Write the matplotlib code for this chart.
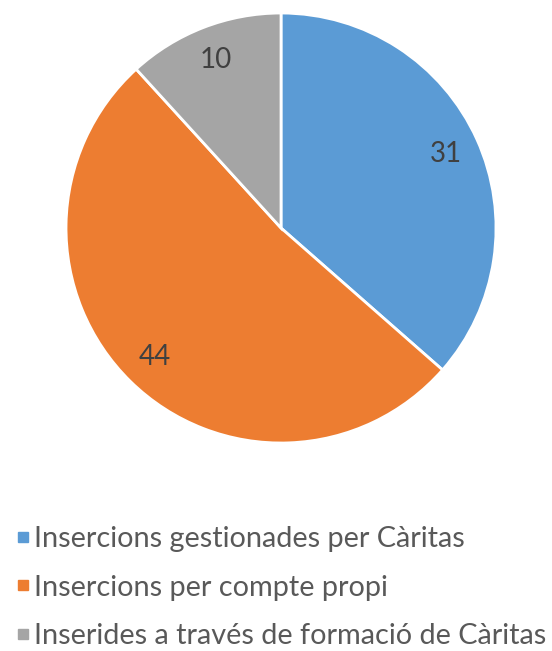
import matplotlib.pyplot as plt
from matplotlib.lines import Line2D

labels = ["Insercions gestionades per Càritas",
          "Insercions per compte propi",
          "Inserides a través de formació de Càritas"]
values = [31, 44, 10]
colors = ["#5B9BD5", "#ED7D31", "#A5A5A5"]

plt.rcParams['font.family'] = ['Lato', 'DejaVu Sans']

fig = plt.figure(figsize=(5.52, 6.51), dpi=100)
ax = fig.add_axes([0.1196, 0.3195, 0.779, 0.6605])

wedges, texts, autotexts = ax.pie(
    values, colors=colors, startangle=90, counterclock=False,
    autopct=lambda p: f"{p * sum(values) / 100:.0f}", pctdistance=0.84,
    wedgeprops=dict(edgecolor="white", linewidth=2),
    textprops=dict(color="#404040", fontsize=20))
ax.set_xlim(-1, 1)
ax.set_ylim(-1, 1)
ax.set_aspect("equal")

handles = [Line2D([], [], marker="s", linestyle="none", markersize=7.5,
                  markerfacecolor=c, markeredgecolor=c) for c in colors]
fig.legend(handles, labels, loc="upper left", bbox_to_anchor=(0.031, 0.192),
           frameon=False, fontsize=20.8, labelcolor="#595959",
           handlelength=0.42, handletextpad=0.18, labelspacing=0.78,
           borderaxespad=0, borderpad=0)

fig.savefig("out.png", dpi=100)
